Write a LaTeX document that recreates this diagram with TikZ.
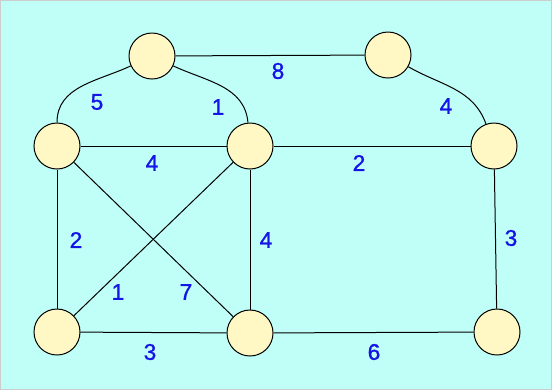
\documentclass[tikz,border=0pt]{standalone}
\usepackage{fontspec}
\setmainfont{Liberation Sans}
\newfontfamily\labfont[FakeBold=1.2]{Liberation Sans}
\definecolor{bgc}{RGB}{192,255,248}
\definecolor{nodefill}{RGB}{255,248,196}
\definecolor{labc}{RGB}{20,20,230}
\begin{document}
\begin{tikzpicture}[x=0.75pt,y=-0.75pt,
  vert/.style={circle,draw=black,fill=nodefill,line width=0.75pt,minimum size=34.5pt,inner sep=0pt},
  edge/.style={draw=black,line width=0.75pt},
  wlab/.style={text=labc,font=\labfont\fontsize{17}{17}\selectfont,inner sep=0pt}]
\useasboundingbox (0,0) rectangle (552,390);
\fill[bgc] (0,0) rectangle (552,390);
\draw[gray!40,line width=1pt] (0.5,0.5) rectangle (551.5,389.5);
\node[vert] (A) at (152,56) {};
\node[vert] (B) at (388,55) {};
\node[vert] (C) at (57,146) {};
\node[vert] (D) at (250,146) {};
\node[vert] (E) at (494,146) {};
\node[vert] (F) at (57,332) {};
\node[vert] (G) at (250,333) {};
\node[vert] (H) at (497,332) {};
\path[edge] (A) -- (B);
\path[edge] (A) to[out=205,in=90] (C);
\path[edge] (A) to[out=-25,in=95] (D);
\path[edge] (B) to[out=-30,in=110] (E);
\path[edge] (C) -- (D);
\path[edge] (D) -- (E);
\path[edge] (C) -- (F);
\path[edge] (D) -- (G);
\path[edge] (E) -- (H);
\path[edge] (F) -- (G);
\path[edge] (G) -- (H);
\path[edge] (C) -- (G);
\path[edge] (D) -- (F);
\node[wlab] (l8) at (278,71) {8};
\node[wlab] (l5) at (97,102) {5};
\node[wlab] (l1a) at (218,107) {1};
\node[wlab] (l4a) at (152,163) {4};
\node[wlab] (l4b) at (446,106) {4};
\node[wlab] (l2a) at (359,163) {2};
\node[wlab] (l2b) at (76,240) {2};
\node[wlab] (l4c) at (266,240) {4};
\node[wlab] (l3a) at (511,238) {3};
\node[wlab] (l1b) at (118,292) {1};
\node[wlab] (l7) at (186,292) {7};
\node[wlab] (l3b) at (150,352) {3};
\node[wlab] (l6) at (374,352) {6};
\end{tikzpicture}
\end{document}
